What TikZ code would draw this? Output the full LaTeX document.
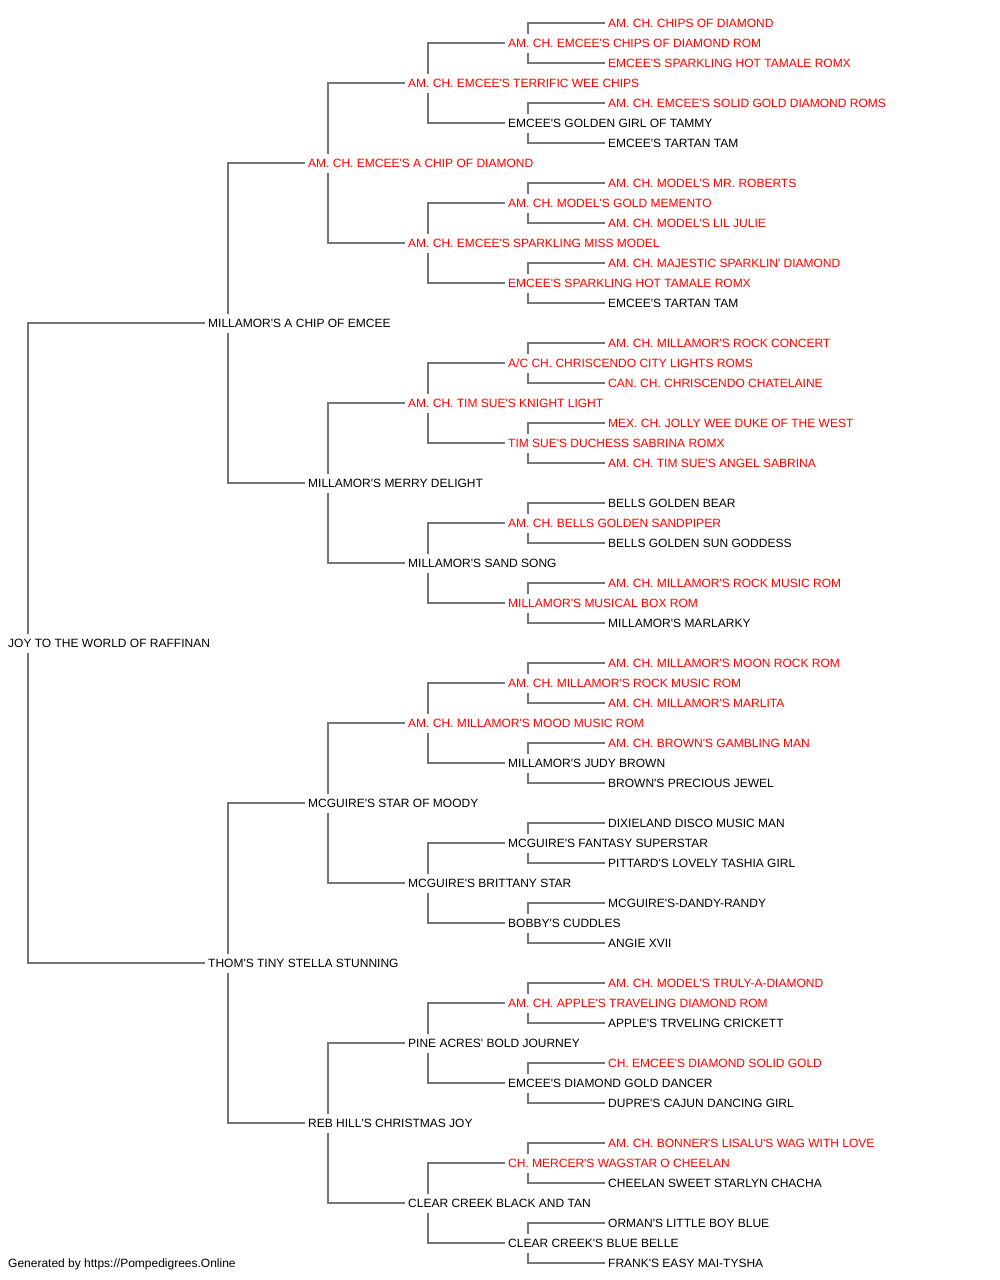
\documentclass[tikz,border=0pt]{standalone}
\usepackage{fontspec}
\setmainfont{Liberation Sans}[Ligatures=TeXOff]
\definecolor{pedred}{RGB}{255,0,0}
\definecolor{linegray}{RGB}{118,118,118}
\tikzset{
  nm/.style={anchor=west, inner xsep=3pt, inner ysep=5pt, text height=8.6pt, text depth=0pt, font=\fontsize{12}{14}\selectfont, text=black},
  rn/.style={nm, text=pedred},
  link/.style={draw=linegray, line width=1.6pt}
}
\newcommand\kids[3]{%
  \draw[link] ([xshift=23pt]#1.north west) |- (#2.west);
  \draw[link] ([xshift=23pt]#1.south west) |- (#3.west);
}
\begin{document}
\begin{tikzpicture}[x=1pt,y=-1pt]
\fill[white] (0,0) rectangle (1000,1280);
\useasboundingbox (0,0) rectangle (1000,1280);
% generation 1
\node[nm] (a) at (5,643) {JOY TO THE WORLD OF RAFFINAN};
% generation 2
\node[nm] (b0) at (205,323) {MILLAMOR'S A CHIP OF EMCEE};
\node[nm] (b1) at (205,963) {THOM'S TINY STELLA STUNNING};
% generation 3
\node[rn] (c0) at (305,163) {AM. CH. EMCEE'S A CHIP OF DIAMOND};
\node[nm] (c1) at (305,483) {MILLAMOR'S MERRY DELIGHT};
\node[nm] (c2) at (305,803) {MCGUIRE'S STAR OF MOODY};
\node[nm] (c3) at (305,1123) {REB HILL'S CHRISTMAS JOY};
% generation 4
\node[rn] (d0) at (405,83) {AM. CH. EMCEE'S TERRIFIC WEE CHIPS};
\node[rn] (d1) at (405,243) {AM. CH. EMCEE'S SPARKLING MISS MODEL};
\node[rn] (d2) at (405,403) {AM. CH. TIM SUE'S KNIGHT LIGHT};
\node[nm] (d3) at (405,563) {MILLAMOR'S SAND SONG};
\node[rn] (d4) at (405,723) {AM. CH. MILLAMOR'S MOOD MUSIC ROM};
\node[nm] (d5) at (405,883) {MCGUIRE'S BRITTANY STAR};
\node[nm] (d6) at (405,1043) {PINE ACRES' BOLD JOURNEY};
\node[nm] (d7) at (405,1203) {CLEAR CREEK BLACK AND TAN};
% generation 5
\node[rn] (e0) at (505,43) {AM. CH. EMCEE'S CHIPS OF DIAMOND ROM};
\node[nm] (e1) at (505,123) {EMCEE'S GOLDEN GIRL OF TAMMY};
\node[rn] (e2) at (505,203) {AM. CH. MODEL'S GOLD MEMENTO};
\node[rn] (e3) at (505,283) {EMCEE'S SPARKLING HOT TAMALE ROMX};
\node[rn] (e4) at (505,363) {A/C CH. CHRISCENDO CITY LIGHTS ROMS};
\node[rn] (e5) at (505,443) {TIM SUE'S DUCHESS SABRINA ROMX};
\node[rn] (e6) at (505,523) {AM. CH. BELLS GOLDEN SANDPIPER};
\node[rn] (e7) at (505,603) {MILLAMOR'S MUSICAL BOX ROM};
\node[rn] (e8) at (505,683) {AM. CH. MILLAMOR'S ROCK MUSIC ROM};
\node[nm] (e9) at (505,763) {MILLAMOR'S JUDY BROWN};
\node[nm] (e10) at (505,843) {MCGUIRE'S FANTASY SUPERSTAR};
\node[nm] (e11) at (505,923) {BOBBY'S CUDDLES};
\node[rn] (e12) at (505,1003) {AM. CH. APPLE'S TRAVELING DIAMOND ROM};
\node[nm] (e13) at (505,1083) {EMCEE'S DIAMOND GOLD DANCER};
\node[rn] (e14) at (505,1163) {CH. MERCER'S WAGSTAR O CHEELAN};
\node[nm] (e15) at (505,1243) {CLEAR CREEK'S BLUE BELLE};
% generation 6
\node[rn] (f0) at (605,23) {AM. CH. CHIPS OF DIAMOND};
\node[rn] (f1) at (605,63) {EMCEE'S SPARKLING HOT TAMALE ROMX};
\node[rn] (f2) at (605,103) {AM. CH. EMCEE'S SOLID GOLD DIAMOND ROMS};
\node[nm] (f3) at (605,143) {EMCEE'S TARTAN TAM};
\node[rn] (f4) at (605,183) {AM. CH. MODEL'S MR. ROBERTS};
\node[rn] (f5) at (605,223) {AM. CH. MODEL'S LIL JULIE};
\node[rn] (f6) at (605,263) {AM. CH. MAJESTIC SPARKLIN' DIAMOND};
\node[nm] (f7) at (605,303) {EMCEE'S TARTAN TAM};
\node[rn] (f8) at (605,343) {AM. CH. MILLAMOR'S ROCK CONCERT};
\node[rn] (f9) at (605,383) {CAN. CH. CHRISCENDO CHATELAINE};
\node[rn] (f10) at (605,423) {MEX. CH. JOLLY WEE DUKE OF THE WEST};
\node[rn] (f11) at (605,463) {AM. CH. TIM SUE'S ANGEL SABRINA};
\node[nm] (f12) at (605,503) {BELLS GOLDEN BEAR};
\node[nm] (f13) at (605,543) {BELLS GOLDEN SUN GODDESS};
\node[rn] (f14) at (605,583) {AM. CH. MILLAMOR'S ROCK MUSIC ROM};
\node[nm] (f15) at (605,623) {MILLAMOR'S MARLARKY};
\node[rn] (f16) at (605,663) {AM. CH. MILLAMOR'S MOON ROCK ROM};
\node[rn] (f17) at (605,703) {AM. CH. MILLAMOR'S MARLITA};
\node[rn] (f18) at (605,743) {AM. CH. BROWN'S GAMBLING MAN};
\node[nm] (f19) at (605,783) {BROWN'S PRECIOUS JEWEL};
\node[nm] (f20) at (605,823) {DIXIELAND DISCO MUSIC MAN};
\node[nm] (f21) at (605,863) {PITTARD'S LOVELY TASHIA GIRL};
\node[nm] (f22) at (605,903) {MCGUIRE'S-DANDY-RANDY};
\node[nm] (f23) at (605,943) {ANGIE XVII};
\node[rn] (f24) at (605,983) {AM. CH. MODEL'S TRULY-A-DIAMOND};
\node[nm] (f25) at (605,1023) {APPLE'S TRVELING CRICKETT};
\node[rn] (f26) at (605,1063) {CH. EMCEE'S DIAMOND SOLID GOLD};
\node[nm] (f27) at (605,1103) {DUPRE'S CAJUN DANCING GIRL};
\node[rn] (f28) at (605,1143) {AM. CH. BONNER'S LISALU'S WAG WITH LOVE};
\node[nm] (f29) at (605,1183) {CHEELAN SWEET STARLYN CHACHA};
\node[nm] (f30) at (605,1223) {ORMAN'S LITTLE BOY BLUE};
\node[nm] (f31) at (605,1263) {FRANK'S EASY MAI-TYSHA};
% footer
\node[nm] (foot) at (5,1263) {Generated by https://Pompedigrees.Online};
% connectors
\kids{a}{b0}{b1}
\foreach \i [evaluate=\i as \j using int(2*\i), evaluate=\i as \k using int(2*\i+1)] in {0,1} {\kids{b\i}{c\j}{c\k}}
\foreach \i [evaluate=\i as \j using int(2*\i), evaluate=\i as \k using int(2*\i+1)] in {0,...,3} {\kids{c\i}{d\j}{d\k}}
\foreach \i [evaluate=\i as \j using int(2*\i), evaluate=\i as \k using int(2*\i+1)] in {0,...,7} {\kids{d\i}{e\j}{e\k}}
\foreach \i [evaluate=\i as \j using int(2*\i), evaluate=\i as \k using int(2*\i+1)] in {0,...,15} {\kids{e\i}{f\j}{f\k}}
\end{tikzpicture}
\end{document}
